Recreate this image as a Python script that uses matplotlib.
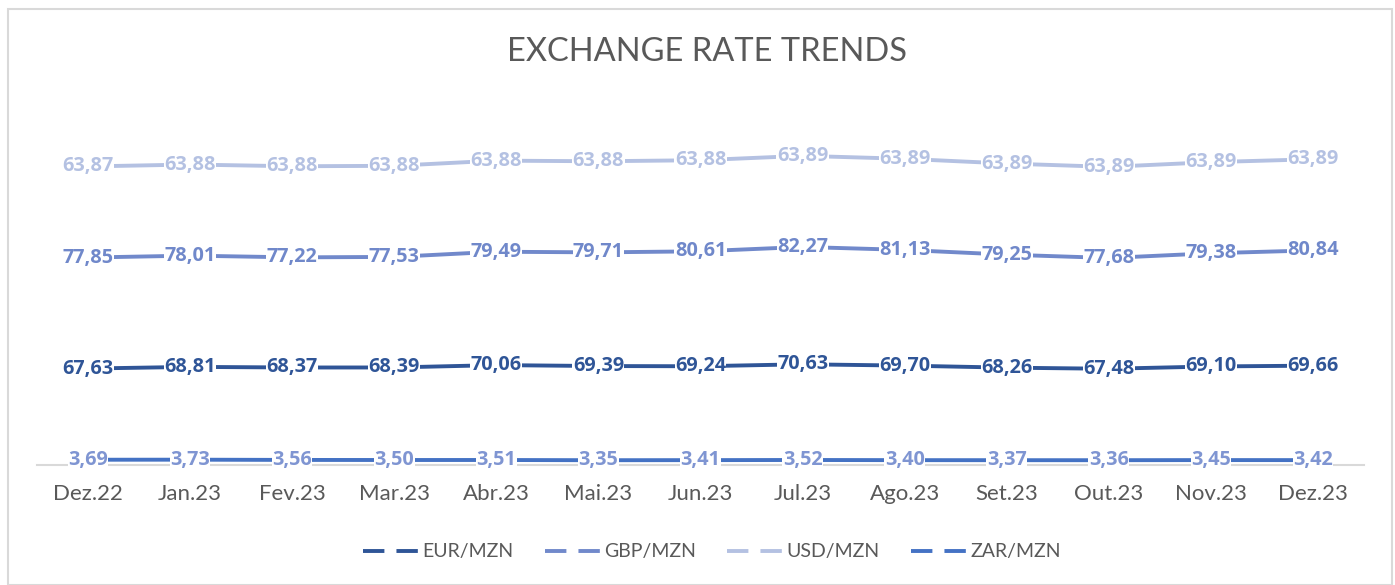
import numpy as np
import matplotlib
matplotlib.use("Agg")
import matplotlib.pyplot as plt
from matplotlib.lines import Line2D
from matplotlib.patches import Rectangle

months = ["Dez.22", "Jan.23", "Fev.23", "Mar.23", "Abr.23", "Mai.23", "Jun.23",
          "Jul.23", "Ago.23", "Set.23", "Out.23", "Nov.23", "Dez.23"]
eur = [67.63, 68.81, 68.37, 68.39, 70.06, 69.39, 69.24, 70.63, 69.70, 68.26, 67.48, 69.10, 69.66]
gbp = [77.85, 78.01, 77.22, 77.53, 79.49, 79.71, 80.61, 82.27, 81.13, 79.25, 77.68, 79.38, 80.84]
usd = [63.87, 63.88, 63.88, 63.88, 63.88, 63.88, 63.88, 63.89, 63.89, 63.89, 63.89, 63.89, 63.89]
zar = [3.69, 3.73, 3.56, 3.50, 3.51, 3.35, 3.41, 3.52, 3.40, 3.37, 3.36, 3.45, 3.42]
series_names = ["EUR/MZN", "GBP/MZN", "USD/MZN", "ZAR/MZN"]

line_colors = ["#2F5597", "#7189CB", "#B4C1E2", "#4472C4"]
label_colors = ["#2F5597", "#7088CA", "#B4C1E2", "#7F95D2"]

plt.rcParams['font.family'] = ['Lato', 'DejaVu Sans']

fig = plt.figure(figsize=(13.95, 5.85), dpi=100)
W, H = 1395, 585
# chart border
fig.patches.append(Rectangle((8 / W, 0.0), (1392 - 8) / W, (H - 9) / H,
                             transform=fig.transFigure, fill=False,
                             edgecolor="#D9D9D9", linewidth=1.5))

ax_left, ax_right = 37, 1364
ax_bottom, ax_top = 465, 137
ax = fig.add_axes([ax_left / W, (H - ax_bottom) / H,
                   (ax_right - ax_left) / W, (ax_bottom - ax_top) / H])

x = np.arange(len(months))
# stacked series (EUR, GBP, USD); ZAR plotted on its own
eur_a = np.array(eur)
gbp_a = np.array(gbp)
usd_a = np.array(usd)
zar_a = np.array(zar)
cum_eur = eur_a
cum_gbp = eur_a + gbp_a
cum_usd = eur_a + gbp_a + usd_a

plot_data = [(cum_eur, eur_a), (cum_gbp, gbp_a), (cum_usd, usd_a), (zar_a, zar_a)]

for i, (ypos, vals) in enumerate(plot_data):
    ax.plot(x, ypos, color=line_colors[i], lw=2.8, solid_capstyle="butt", zorder=2)
    for xi, yi, v in zip(x, ypos, vals):
        ax.text(xi, yi, f"{v:.2f}".replace(".", ","), ha="center", va="center",
                fontsize=14.3, fontweight="bold", color=label_colors[i], zorder=4,
                family=["Open Sans", "DejaVu Sans"],
                bbox=dict(boxstyle="square,pad=0.02", fc="white", ec="none"))

ax.set_xlim(-0.5, len(months) - 0.5)
ax.set_ylim(0, 230)
ax.set_yticks([])
ax.set_xticks(x)
ax.set_xticklabels(months, fontsize=16, color="#595959")
ax.tick_params(axis="x", length=0, pad=14)
for s in ["top", "right", "left"]:
    ax.spines[s].set_visible(False)
ax.spines["bottom"].set_color("#D9D9D9")
ax.spines["bottom"].set_linewidth(1.5)
ax.patch.set_alpha(0)

fig.text(707 / W, 1 - 52 / H, "EXCHANGE RATE TRENDS", ha="center", va="center",
         fontsize=23.5, color="#595959", fontweight="normal")

handles = [Line2D([0], [0], color=c, lw=2.8, dashes=(5.5, 3.1)) for c in line_colors]
fig.legend(handles, series_names, loc="center", bbox_to_anchor=(712 / W, 1 - 552 / H),
           ncol=4, frameon=False, fontsize=14, labelcolor="#595959",
           handlelength=2.85, handletextpad=0.2, columnspacing=1.6)

fig.savefig("out.png", dpi=100)
